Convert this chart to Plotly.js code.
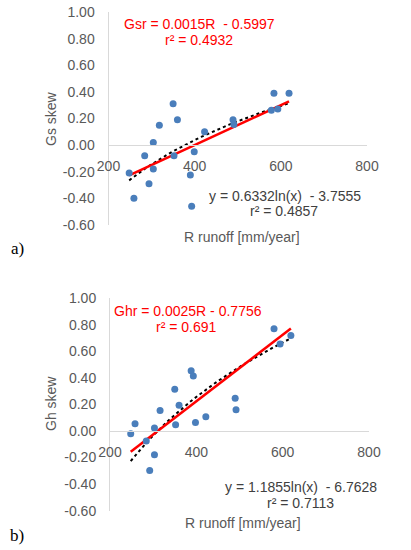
<!DOCTYPE html>
<html>
<head>
<meta charset="utf-8">
<script src="https://cdn.plot.ly/plotly-3.0.1.min.js"></script>
<style>
html,body{margin:0;padding:0;background:#fff;}
#chart{width:411px;height:550px;}
</style>
</head>
<body>
<div id="chart"></div>
<script>
// ---- Data ----
const runoffA = [248, 259, 284, 294, 304, 304, 318, 350, 352, 360, 390, 393, 399, 423, 489, 491, 578, 584, 593, 619];
const gsSkew  = [-0.21, -0.40, -0.08, -0.29, 0.02, -0.18, 0.15, 0.31, -0.08, 0.19, -0.225, -0.46, -0.05, 0.10, 0.19, 0.155, 0.262, 0.39, 0.272, 0.39];

const runoffB = [248, 258, 284, 292, 303, 303, 316, 350, 352, 360, 388, 393, 398, 422, 490, 492, 580, 594, 619];
const ghSkew  = [-0.02, 0.055, -0.075, -0.298, 0.023, -0.178, 0.155, 0.315, 0.047, 0.195, 0.455, 0.415, 0.065, 0.108, 0.248, 0.16, 0.771, 0.655, 0.72];

// trendline coefficients
const linA = [0.0015, -0.5997];   // Gsr = 0.0015R - 0.5997
const logA = [0.6332, -3.7555];   // y = 0.6332 ln(x) - 3.7555
const linB = [0.0025, -0.7756];   // Ghr = 0.0025R - 0.7756
const logB = [1.011, -5.80];      // dotted curve as drawn in the reference

const xTickVals = [200, 400, 600, 800];
const xTickText = ['200', '400', '600', '800'];
const yTickVals = [-0.6, -0.4, -0.2, 0, 0.2, 0.4, 0.6, 0.8, 1.0];
const yTickText = ['-0.60', '-0.40', '-0.20', '0.00', '0.20', '0.40', '0.60', '0.80', '1.00'];

// ---- helpers ----
function linLine(xs, c) {
  const lo = Math.min(...xs), hi = Math.max(...xs);
  return {x: [lo, hi], y: [c[0]*lo + c[1], c[0]*hi + c[1]]};
}
function logCurve(xs, c) {
  const lo = Math.min(...xs), hi = Math.max(...xs);
  const x = [], y = [];
  for (let i = 0; i <= 40; i++) {
    const v = lo + (hi - lo) * i / 40;
    x.push(v); y.push(c[0]*Math.log(v) + c[1]);
  }
  return {x, y};
}

const W = 411, H = 550;
const px = v => v / W;
const py = v => 1 - v / H;

const dotColor = '#4a7ebb';
const la = linLine(runoffA, linA), ga = logCurve(runoffA, logA);
const lb = linLine(runoffB, linB), gb = logCurve(runoffB, logB);

const traces = [
  {x: ga.x, y: ga.y, xaxis: 'x', yaxis: 'y', mode: 'lines', line: {color: '#000', width: 2, dash: 'dot'}, hoverinfo: 'skip'},
  {x: la.x, y: la.y, xaxis: 'x', yaxis: 'y', mode: 'lines', line: {color: '#ff0000', width: 2.5}, hoverinfo: 'skip'},
  {x: runoffA, y: gsSkew, xaxis: 'x', yaxis: 'y', mode: 'markers', marker: {color: dotColor, size: 7}},
  {x: gb.x, y: gb.y, xaxis: 'x2', yaxis: 'y2', mode: 'lines', line: {color: '#000', width: 2, dash: 'dot'}, hoverinfo: 'skip'},
  {x: lb.x, y: lb.y, xaxis: 'x2', yaxis: 'y2', mode: 'lines', line: {color: '#ff0000', width: 2.5}, hoverinfo: 'skip'},
  {x: runoffB, y: ghSkew, xaxis: 'x2', yaxis: 'y2', mode: 'markers', marker: {color: dotColor, size: 7}}
];

const tickFont = {family: 'Liberation Sans, Arial, sans-serif', size: 14, color: '#595959'};
const axLine = '#d9d9d9';

function xAxis(domain, pos) {
  return {
    domain: domain, anchor: 'free', position: pos, range: [200, 800],
    tickmode: 'array', tickvals: xTickVals, ticktext: xTickText,
    showgrid: false, zeroline: false, showline: true, linecolor: axLine, linewidth: 1,
    ticks: '', ticklabelstandoff: 8, tickfont: tickFont, fixedrange: true
  };
}
function yAxis(domain, anchor) {
  return {
    domain: domain, anchor: anchor, range: [-0.6001, 1.0001],
    tickmode: 'array', tickvals: yTickVals, ticktext: yTickText,
    showgrid: false, zeroline: false, showline: true, linecolor: axLine, linewidth: 1,
    ticks: '', ticklabelstandoff: 10, tickfont: tickFont, fixedrange: true
  };
}

const textFont = {family: 'Liberation Sans, Arial, sans-serif', size: 14, color: '#595959'};
const eqFont = {family: 'Liberation Sans, Arial, sans-serif', size: 14, color: '#404040'};
const redFont = {family: 'Liberation Sans, Arial, sans-serif', size: 14, color: '#ff0000'};
const lblFont = {family: 'Liberation Serif, Times New Roman, serif', size: 17, color: '#000'};

function ann(text, x, y, font, extra) {
  return Object.assign({text: text, x: px(x), y: py(y), xref: 'paper', yref: 'paper',
    xanchor: 'center', yanchor: 'middle', showarrow: false, font: font}, extra || {});
}

const annotations = [
  ann('Gsr = 0.0015R \u00a0- 0.5997', 199, 23.5, redFont),
  ann('r² = 0.4932', 199, 40, redFont),
  ann('y = 0.6332ln(x) \u00a0- 3.7555', 284.7, 195.7, eqFont),
  ann('r² = 0.4857', 284, 210.7, eqFont),
  ann('R runoff [mm/year]', 241.7, 236.7, textFont),
  ann('Gs skew', 51, 119, textFont, {textangle: -90}),
  ann('a)', 17, 248, lblFont),
  ann('Ghr = 0.0025R - 0.7756', 187.7, 310.7, redFont),
  ann('r² = 0.691', 186.7, 326.7, redFont),
  ann('y = 1.1855ln(x) \u00a0- 6.7628', 300.7, 486.7, eqFont),
  ann('r² = 0.7113', 300.5, 502.7, eqFont),
  ann('R runoff [mm/year]', 243, 523.3, textFont),
  ann('Gh skew', 51, 404, textFont, {textangle: -90}),
  ann('b)', 17, 535, lblFont)
];

const layout = {
  width: W, height: H,
  margin: {l: 0, r: 0, t: 0, b: 0},
  paper_bgcolor: '#fff', plot_bgcolor: 'rgba(0,0,0,0)',
  showlegend: false,
  xaxis: xAxis([px(108.5), px(367)], py(144.7)),
  yaxis: yAxis([py(225), py(12)], 'x'),
  xaxis2: xAxis([px(110), px(369)], py(431.3)),
  yaxis2: yAxis([py(510.7), py(298.3)], 'x2'),
  annotations: annotations
};

Plotly.newPlot('chart', traces, layout, {displayModeBar: false, staticPlot: true});
</script>
</body>
</html>
